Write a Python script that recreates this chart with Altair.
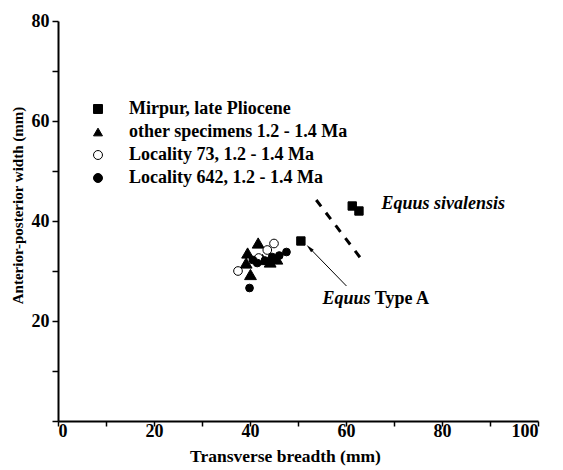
import altair as alt
import pandas as pd

# ---- data ----
groups = ["Mirpur, late Pliocene", "other specimens 1.2 - 1.4 Ma",
          "Locality 73, 1.2 - 1.4 Ma", "Locality 642, 1.2 - 1.4 Ma"]
group_sizes = [70, 140, 75, 60]

mirpur_x = [61.3, 62.7, 50.6]
mirpur_y = [43.0, 42.0, 36.0]

other_x = [41.7, 39.5, 39.2, 40.1, 42.6, 44.2, 45.6]
other_y = [35.6, 33.6, 31.6, 29.3, 32.3, 31.8, 32.4]

loc73_x = [45.0, 43.6, 37.5, 41.8]
loc73_y = [35.5, 34.2, 30.0, 32.6]

loc642_x = [39.9, 47.6, 46.1, 44.6, 43.1, 41.5, 40.6]
loc642_y = [26.6, 33.8, 33.1, 32.8, 32.1, 31.6, 32.2]

dash_x = [53.8, 63.1]
dash_y = [44.2, 32.5]

arrow_x = [60.1, 52.4]
arrow_y = [27.0, 34.6]

x_ticks = [0, 10, 20, 30, 40, 50, 60, 70, 80, 90, 100]
y_ticks = [0, 10, 20, 30, 40, 50, 60, 70, 80]

rows = []
for g, s, xs, ys in [(groups[0], group_sizes[0], mirpur_x, mirpur_y),
                     (groups[1], group_sizes[1], other_x, other_y),
                     (groups[2], group_sizes[2], loc73_x, loc73_y),
                     (groups[3], group_sizes[3], loc642_x, loc642_y)]:
    for a, b in zip(xs, ys):
        rows.append({"group": g, "sz": s, "x": a, "y": b})
pts = pd.DataFrame(rows)

SERIF = "Liberation Serif"

X = alt.X("x:Q", scale=alt.Scale(domain=[0, 100], nice=False, zero=False),
          axis=alt.Axis(values=x_ticks, title="Transverse breadth (mm)",
                        labelExpr="datum.value % 20 == 0 ? datum.label : ''",
                        labelFont=SERIF, labelFontWeight="bold", labelFontSize=18,
                        labelPadding=-4, tickSize=5, titleFont=SERIF, titleFontSize=17.5,
                        titleX=227, titlePadding=7))
Y = alt.Y("y:Q", scale=alt.Scale(domain=[0, 80], nice=False, zero=False),
          axis=alt.Axis(values=y_ticks, title="Anterior-posterior width (mm)",
                        labelExpr="(datum.value % 20 == 0 && datum.value > 0) ? datum.label : ''",
                        labelFont=SERIF, labelFontWeight="bold", labelFontSize=18,
                        labelPadding=3, tickSize=6, titleFont=SERIF, titleFontSize=15,
                        titleY=184, titlePadding=6))

leg = alt.Legend(title=None, orient="none", legendX=31, legendY=79,
                 labelFont=SERIF, labelFontWeight="bold", labelFontSize=18,
                 labelColor="black", rowPadding=5, labelOffset=22, labelLimit=400,
                 symbolSize=80, symbolStrokeWidth=1)

points = alt.Chart(pts).mark_point(filled=False, color="black", opacity=1,
                                   fillOpacity=1, strokeWidth=1).encode(
    x=X, y=Y,
    shape=alt.Shape("group:N", scale=alt.Scale(domain=groups,
                    range=["square", "triangle-up", "circle", "circle"]), legend=leg),
    fill=alt.Fill("group:N", scale=alt.Scale(domain=groups,
                  range=["black", "black", "white", "black"]), legend=leg),
    size=alt.Size("sz:Q", scale=None),
)

dash = alt.Chart(pd.DataFrame({"x": dash_x, "y": dash_y})).mark_line(
    color="black", strokeWidth=3, strokeDash=[8, 8]).encode(x="x:Q", y="y:Q")

arrow_df = pd.DataFrame({"x": [arrow_x[0]], "y": [arrow_y[0]], "x2": [arrow_x[1]], "y2": [arrow_y[1]]})
arrow_line = alt.Chart(arrow_df).mark_rule(color="black", strokeWidth=1).encode(
    x="x:Q", y="y:Q", x2="x2:Q", y2="y2:Q")
arrow_head = alt.Chart(pd.DataFrame({"x": [arrow_x[1]], "y": [arrow_y[1]]})).mark_point(
    shape="M0,-1L-0.45,1L0.45,1Z", filled=True, color="black", opacity=1, size=70, angle=316
).encode(x="x:Q", y="y:Q")

ann_it = pd.DataFrame({"x": [67.4, 55.1], "y": [42.4, 23.4], "t": ["Equus sivalensis", "Equus"]})
txt_it = alt.Chart(ann_it).mark_text(font=SERIF, fontWeight="bold", fontStyle="italic",
                                     fontSize=18, align="left", baseline="alphabetic",
                                     color="black").encode(x="x:Q", y="y:Q", text="t:N")
ann_rm = pd.DataFrame({"x": [66.0], "y": [23.4], "t": ["Type A"]})
txt_rm = alt.Chart(ann_rm).mark_text(font=SERIF, fontWeight="bold",
                                     fontSize=18, align="left", baseline="alphabetic",
                                     color="black").encode(x="x:Q", y="y:Q", text="t:N")

chart = alt.layer(dash, arrow_line, arrow_head, points, txt_it, txt_rm).properties(
    width=480, height=400,
    padding={"left": 50, "top": 13, "right": 15, "bottom": 47},
    autosize=alt.AutoSizeParams(type="none"),
).configure_view(stroke=None).configure_axis(
    grid=False, domainColor="black", domainWidth=2, tickColor="black", tickWidth=1.5,
    labelFont=SERIF, labelFontWeight="bold", labelFontSize=18,
    labelColor="black", titleFont=SERIF, titleFontWeight="bold",
    titleColor="black",
)

chart.save("out.html", embed_options={"renderer": "svg", "actions": False})
